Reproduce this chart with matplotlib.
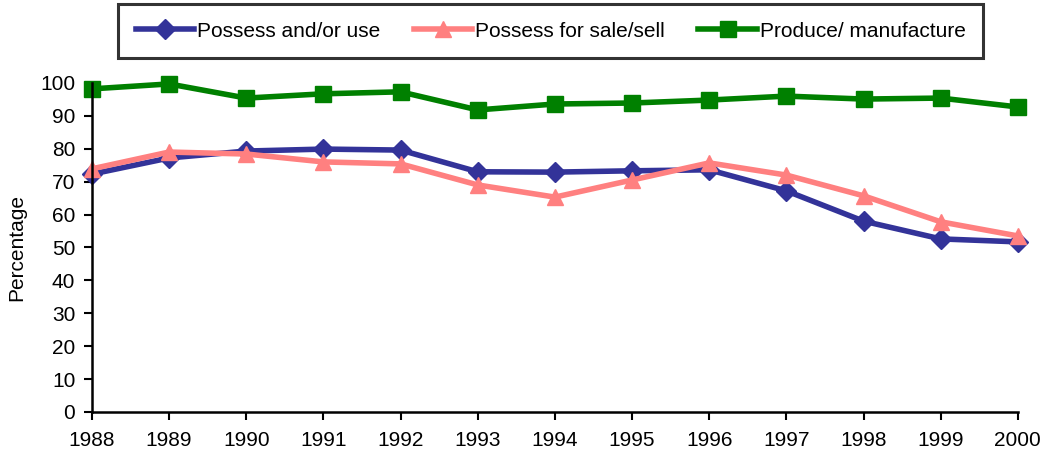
import matplotlib.pyplot as plt

plt.rcParams['font.family'] = ['Liberation Sans', 'DejaVu Sans']

# data
years = [1988, 1989, 1990, 1991, 1992, 1993, 1994, 1995, 1996, 1997, 1998, 1999, 2000]
possess_use = [72.3, 77.2, 79.3, 79.9, 79.6, 73.0, 72.9, 73.3, 73.6, 67.2, 58.0, 52.6, 51.7]
possess_sale = [73.9, 79.0, 78.4, 76.0, 75.4, 69.0, 65.3, 70.5, 75.7, 72.0, 65.7, 57.8, 53.5]
produce = [98.2, 99.7, 95.4, 96.7, 97.3, 91.8, 93.6, 93.9, 94.8, 96.0, 95.1, 95.4, 92.7]

fig = plt.figure(figsize=(10.45, 4.57), dpi=100)
ax = fig.add_axes([0.088, 0.0985, 0.886, 0.72])

ax.plot(years, possess_use, color='#333399', lw=4, marker='D', ms=10, clip_on=False, label='Possess and/or use')
ax.plot(years, possess_sale, color='#FF8080', lw=4, marker='^', ms=12, clip_on=False, label='Possess for sale/sell')
ax.plot(years, produce, color='#008000', lw=4, marker='s', ms=12, clip_on=False, label='Produce/ manufacture')

ax.set_xlim(1988, 2000)
ax.set_ylim(0, 100)
ax.set_xticks(years)
ax.set_yticks(range(0, 101, 10))
ax.tick_params(labelsize=15, width=1.5, length=6, direction='out')
ax.tick_params(axis='x', pad=8)
ax.tick_params(axis='y', pad=6)
ax.spines['top'].set_visible(False)
ax.spines['right'].set_visible(False)
ax.spines['left'].set_linewidth(1.8)
ax.spines['bottom'].set_linewidth(1.8)
ax.set_ylabel('Percentage', fontsize=15, labelpad=10)

leg = fig.legend(loc='center', bbox_to_anchor=(0.527, 0.932), ncol=3, fontsize=15,
                 frameon=True, fancybox=False, edgecolor='black', handlelength=2.8,
                 columnspacing=1.6, handletextpad=0.15, borderpad=0.85)
leg.get_frame().set_linewidth(2.2)

fig.savefig('out.png', dpi=100)
